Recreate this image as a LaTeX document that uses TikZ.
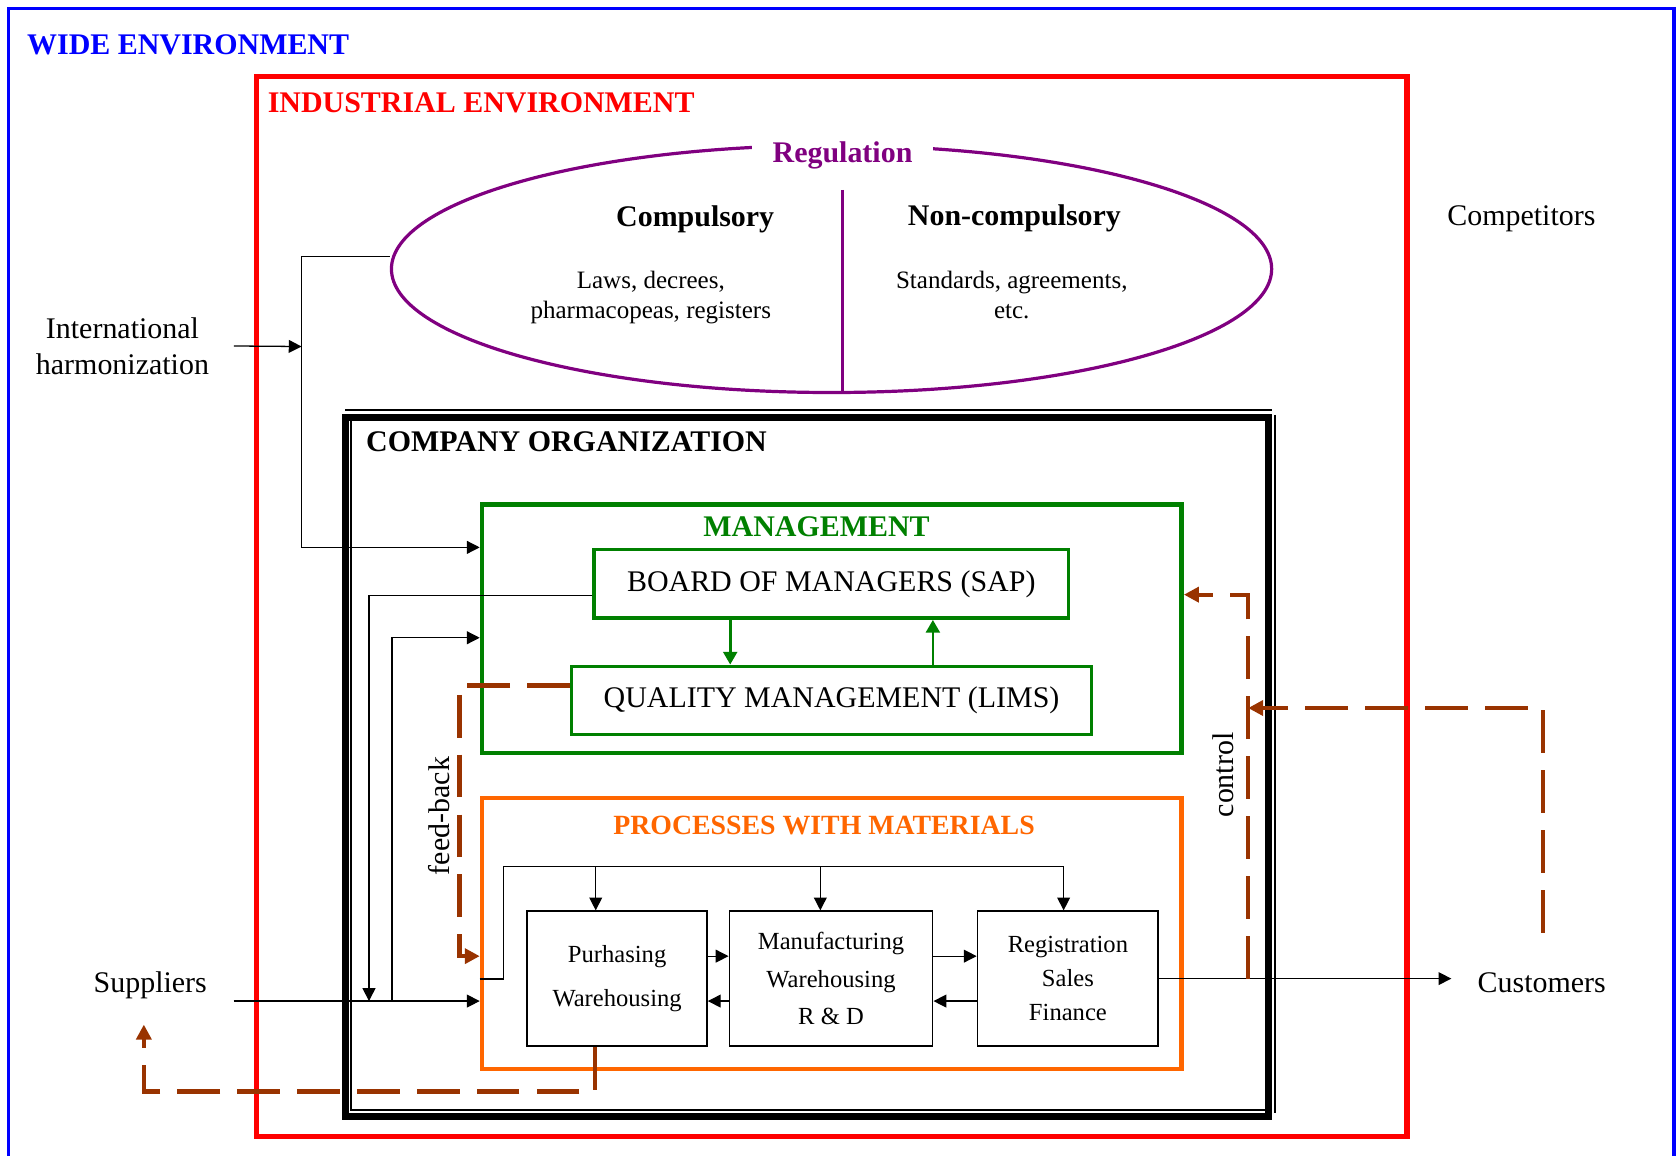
\documentclass[tikz,border=0pt]{standalone}
\usepackage{fontspec}
\setmainfont{Liberation Serif}
\usetikzlibrary{arrows.meta,shapes.geometric}
\definecolor{wblue}{RGB}{0,0,255}
\definecolor{ired}{RGB}{255,0,0}
\definecolor{rpurple}{RGB}{128,0,128}
\definecolor{mgreen}{RGB}{0,128,0}
\definecolor{porange}{RGB}{255,102,0}
\definecolor{fbrown}{RGB}{153,51,0}
\begin{document}
\begin{tikzpicture}[x=0.5pt,y=-0.5pt,
  rt/.style={font=\fontsize{14}{17}\selectfont, inner sep=0pt},
  bt/.style={font=\fontsize{14}{17}\selectfont\bfseries, inner sep=0pt},
  sm/.style={font=\fontsize{11.7}{13.75}\selectfont, align=center, inner sep=0pt},
  ln/.style={line width=0.6pt},
  arr/.style={line width=0.6pt, -{Triangle[length=6pt,width=6pt]}},
  garr/.style={draw=mgreen, line width=1.3pt, -{Triangle[length=6pt,width=6.5pt]}, fill=mgreen},
  barr/.style={draw=fbrown, line width=2pt, dash pattern=on 20pt off 8pt, line join=miter, -{Triangle[length=7pt,width=7pt]}},
  gbox/.style={draw=mgreen, line width=1.6pt, minimum height=32pt, font=\fontsize{14}{17}\selectfont, inner sep=0pt},
  pbox/.style={draw, line width=0.8pt, minimum height=63pt, align=center, inner sep=0pt},
  thin/.style={line width=0.9pt},
]
\useasboundingbox (0,0) rectangle (1568,1080);

% frames
\draw[wblue, line width=1.6pt] (8,8) rectangle (1565,1120);
\draw[ired, line width=2.4pt] (240,71.5) rectangle (1315.5,1063);
% company organization double frame (thick + thin)
\draw[thin] (323,383.5) -- (1189,383.5);
\draw[thin] (1192.5,388) -- (1192.5,1041);
\draw[thin] (328.5,394) -- (328.5,1037.5) -- (1186,1037.5);
\draw[line width=3pt] (323,390.5) rectangle (1186,1044);

% regulation ellipse
\node[ellipse, draw=rpurple, line width=1.5pt, minimum width=411.5pt, minimum height=115.5pt, inner sep=0pt] (reg) at (777.5,251.5) {};
\node[bt, text=rpurple, fill=white, minimum width=84.75pt, inner ysep=4pt, anchor=base] (regl) at (787.75,152) {Regulation};
\coordinate (divtop) at (787.5,177.5);
\draw[rpurple, line width=1.3pt] (divtop) -- (divtop |- reg.south);

% texts
\node[bt, text=wblue, anchor=base west] (wide) at (25,50.5) {WIDE ENVIRONMENT};
\node[bt, text=ired, anchor=base west] (ind) at (250,105.5) {INDUSTRIAL ENVIRONMENT};
\node[bt, anchor=base] (compl) at (650,212) {Compulsory};
\node[bt, anchor=base] (noncompl) at (948.5,211) {Non-compulsory};
\node[sm] (laws) at (608.5,278) {Laws, decrees,\\pharmacopeas, registers};
\node[sm] (stds) at (946,276) {Standards, agreements,\\etc.};
\node[rt, align=center] (intl) at (114.5,323.5) {International\\harmonization};
\node[rt, anchor=base] (compet) at (1422.5,211) {Competitors};
\node[rt, anchor=base] (sup) at (140.5,928) {Suppliers};
\node[rt, anchor=base] (cust) at (1441.5,928) {Customers};
\node[bt, anchor=base west] (corg) at (342,422) {COMPANY ORGANIZATION};

% management
\node[draw=mgreen, line width=2.2pt, minimum width=327pt, minimum height=116pt, inner sep=0pt] (mgmt) at (777.75,588) {};
\node[bt, text=mgreen, anchor=base] (mgmtl) at (763.5,502) {MANAGEMENT};
\node[gbox, minimum width=221.75pt] (board) at (777.25,546) {BOARD OF MANAGERS (SAP)};
\node[gbox, minimum width=243pt] (qual) at (777.5,655) {QUALITY MANAGEMENT (LIMS)};

% processes
\node[draw=porange, line width=2.2pt, minimum width=327pt, minimum height=126.75pt, inner sep=0pt] (proc) at (777.75,872.75) {};
\node[font=\fontsize{13}{16}\selectfont\bfseries, inner sep=0pt, text=porange, anchor=base] (procl) at (770.5,780) {PROCESSES WITH MATERIALS};
\node[pbox, minimum width=84pt, font=\fontsize{11.5}{21}\selectfont] (purch) at (577,915) {Purhasing\\Warehousing};
\node[pbox, minimum width=95pt, font=\fontsize{11.5}{17.5}\selectfont] (manuf) at (777,915) {Manufacturing\\Warehousing\\R \& D};
\node[pbox, minimum width=84.5pt, font=\fontsize{11.5}{16}\selectfont] (regi) at (998.5,915) {Registration\\Sales\\Finance};

% rotated labels
\node[rt, rotate=90] (fbl) at (411,763) {feed-back};
\node[rt, rotate=90] (ctll) at (1143.5,724.5) {control};

% black connectors
\coordinate (ihj) at (282,324);
\draw[arr] ([xshift=11.5pt]intl.east) -- (ihj);
\draw[arr] ([yshift=5.75pt]reg.west) -| (ihj) |- ([yshift=-21pt]mgmt.north west);
\coordinate (sj1) at (345,936);
\draw[arr] ([yshift=-5.5pt]board.west) -| (sj1);
\coordinate (sj2) at (366.5,936);
\draw[arr] (sj2) |- ([yshift=-63.25pt]mgmt.north west);
\coordinate (supout) at (218.5,936);
\draw[arr] (supout) -- (supout -| proc.west);

% green arrows
\draw[garr] ([xshift=-47.25pt]board.south) -- ([xshift=-47.25pt]board.south |- qual.north);
\draw[garr] ([xshift=47.5pt]board.south |- qual.north) -- ([xshift=47.5pt]board.south);

% distribution
\coordinate (dtop) at (470.5,810);
\draw[ln] ([yshift=-21.25pt]proc.west) -| (dtop) -- ([xshift=-1.75pt]regi.north |- dtop);
\draw[arr] ([xshift=-10pt]purch.north |- dtop) -- ([xshift=-10pt]purch.north);
\draw[arr] ([xshift=-5pt]manuf.north |- dtop) -- ([xshift=-5pt]manuf.north);
\draw[arr] ([xshift=-2pt]regi.north |- dtop) -- ([xshift=-2pt]regi.north);

% inter-box arrows
\draw[arr] ([yshift=10.5pt]purch.east) -- ([yshift=10.5pt]purch.east -| manuf.west);
\draw[arr] ([yshift=-10.5pt]manuf.west) -- ([yshift=-10.5pt]manuf.west -| purch.east);
\draw[arr] ([yshift=10.5pt]manuf.east) -- ([yshift=10.5pt]manuf.east -| regi.west);
\draw[arr] ([yshift=-10.5pt]regi.west) -- ([yshift=-10.5pt]regi.west -| manuf.east);

% customers
\coordinate (custin) at (1357,915);
\draw[arr] (regi.east) -- (regi.east -| custin);

% brown dashed
\coordinate (fbc) at (429.5,894);
\draw[barr] ([yshift=7pt]qual.west) -| (fbc) -- (fbc -| proc.west);
\coordinate (rb) at (134.5,1020.5);
\coordinate (rtip) at (134.5,958);
\draw[barr] ([xshift=-10.5pt]purch.south) |- (rb) -- (rtip);
\coordinate (ctl) at (1167,915);
\draw[barr] (ctl) |- ([yshift=16pt]mgmt.east);
\coordinate (cf) at (1442.5,872);
\coordinate (ctl2) at (1167,662);
\draw[barr] (cf) |- (ctl2);
\end{tikzpicture}
\end{document}
